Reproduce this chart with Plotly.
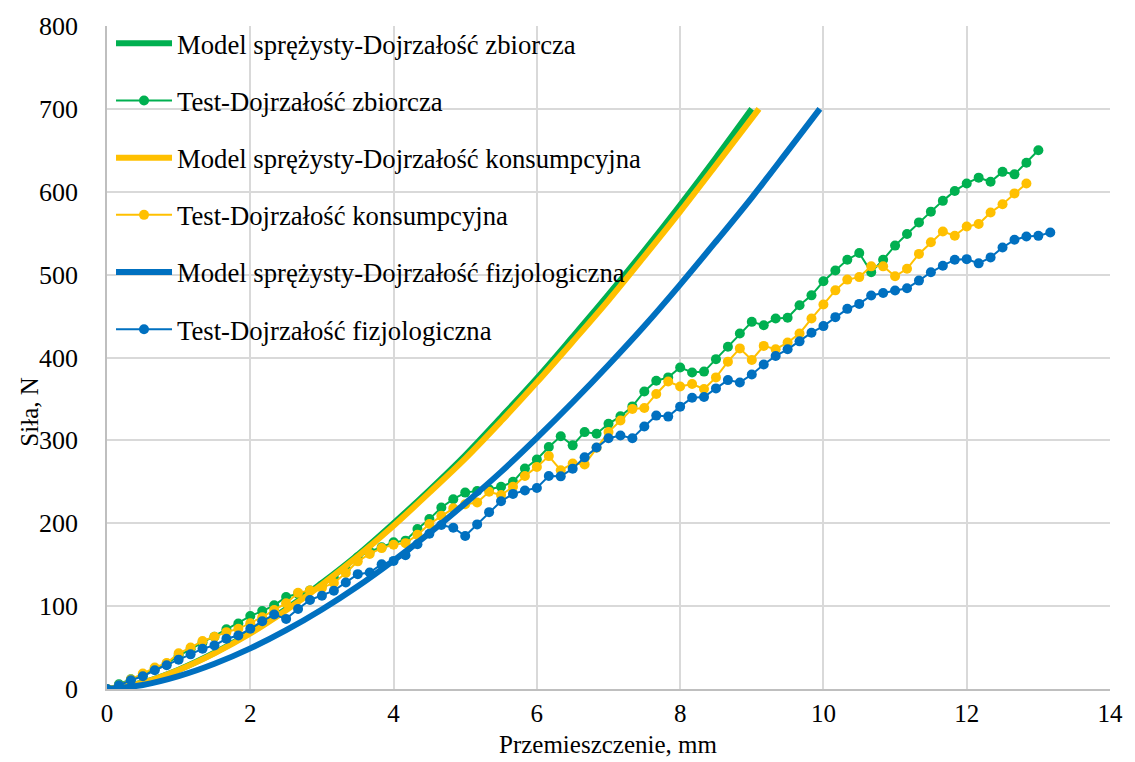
import plotly.graph_objects as go

# --- measured data (force F [N] vs displacement d [mm]) ---
# test samples are recorded every 1/6 mm
STEP = 1 / 6

test_zbiorcza = [
    0, 5.8, 11.8, 16.6, 24.6, 30.6, 40, 48, 56, 63, 72, 79, 88, 94, 101, 111,
    115, 119, 125, 134, 145, 159, 166, 171, 177, 179, 193, 205, 219, 229, 237,
    239, 241, 244, 250, 266, 277, 292, 305, 294, 310, 308, 320, 329, 341, 359,
    372, 376, 388, 382, 383, 398, 413, 429, 443, 439, 447, 448, 463, 475, 492,
    505, 518, 526, 503, 518, 535, 549, 563, 576, 589, 601, 610, 617, 612, 624,
    621, 635, 650,
]

test_konsumpcyjna = [
    0, 4.6, 11.5, 18.6, 25.8, 31.4, 43, 50, 58, 63, 68.6, 72.6, 79.4, 86.6,
    95.4, 103.4, 116, 119, 122, 128, 140, 154, 163, 170, 174, 176, 186, 199,
    209, 218, 223, 225, 238, 234, 244, 257, 268, 281, 264, 272, 271, 291, 310,
    324, 338, 339, 356, 371, 365, 368, 362, 376, 395, 411, 397, 414, 410, 418,
    429, 447, 464, 481, 494, 497, 510, 510, 498, 507, 525, 539, 552, 547, 558,
    561, 575, 585, 598, 610,
]

test_fizjologiczna = [
    0, 4.6, 10.6, 15.4, 22.6, 28.6, 35.4, 41.8, 48.6, 52.6, 60.6, 64.6, 72.6,
    81.8, 89.8, 84.6, 96.6, 107.4, 112.6, 118.6, 128.6, 138.6, 140.6, 150.6,
    154.6, 161.4, 174.7, 187.4, 197.8, 194.6, 184.6, 198.6, 213.4, 226.6, 235.4,
    239.5, 242.6, 257, 256.6, 265.9, 279.5, 291.5, 302.6, 305.9, 302.6, 316.7,
    329.9, 328.7, 340.7, 351.5, 352.3, 362.7, 372.7, 369.9, 379.5, 391.5, 401.9,
    409.9, 419.5, 429.9, 437.9, 448.7, 458.7, 464.7, 474.8, 477.9, 480.8, 483.6,
    492.8, 502.8, 510.8, 518, 518.7, 513.6, 520.8, 532.8, 542, 546, 546.8, 550.8,
]

# --- elastic model curves ---
model_zb_d = [0, 0.5, 1, 1.5, 2, 2.5, 3, 3.5, 4, 4.5, 5, 5.5, 6, 6.5, 7, 7.5, 8, 8.5, 9.0]
model_zb_f = [0, 7.9, 23.3, 43.7, 68.2, 96.5, 128, 162, 200, 240, 282, 328, 375, 425, 476, 529, 584, 641, 700]

model_ko_d = [0, 0.5, 1, 1.5, 2, 2.5, 3, 3.5, 4, 4.5, 5, 5.5, 6, 6.5, 7, 7.5, 8, 8.5, 9.1]
model_ko_f = [0, 7.8, 23, 43, 67, 95, 126, 160, 197, 237, 278, 323, 370, 419, 469, 522, 576, 632, 700]

model_fi_d = [0, 0.5, 1, 1.5, 2, 2.5, 3, 3.5, 4, 4.5, 5, 5.5, 6, 6.5, 7, 7.5, 8, 8.5, 9, 9.5, 9.95]
model_fi_f = [0, 4.9, 15.5, 30.4, 49, 71, 96, 124, 155, 188, 224, 262, 303, 346, 391, 438, 488, 540, 593, 649, 700]

x_ticks = [0, 2, 4, 6, 8, 10, 12, 14]
y_ticks = [0, 100, 200, 300, 400, 500, 600, 700, 800]

GREEN = "#00B050"
YELLOW = "#FFC000"
BLUE = "#0070C0"
FONT = "Liberation Serif, Times New Roman, serif"


def grid(values):
    return [round(i * STEP, 4) for i in range(len(values))]


fig = go.Figure()

series = [
    ("Model sprężysty-Dojrzałość zbiorcza", model_zb_d, model_zb_f, GREEN, "model"),
    ("Test-Dojrzałość zbiorcza", grid(test_zbiorcza), test_zbiorcza, GREEN, "test"),
    ("Model sprężysty-Dojrzałość konsumpcyjna", model_ko_d, model_ko_f, YELLOW, "model"),
    ("Test-Dojrzałość konsumpcyjna", grid(test_konsumpcyjna), test_konsumpcyjna, YELLOW, "test"),
    ("Model sprężysty-Dojrzałość fizjologiczna", model_fi_d, model_fi_f, BLUE, "model"),
    ("Test-Dojrzałość fizjologiczna", grid(test_fizjologiczna), test_fizjologiczna, BLUE, "test"),
]

for i, (name, xs, ys, color, kind) in enumerate(series):
    if kind == "model":
        fig.add_trace(go.Scatter(
            x=xs, y=ys, name=name, mode="lines", legendgroup=f"g{i}",
            line=dict(color=color, width=6, shape="spline", smoothing=1.0),
        ))
    else:
        fig.add_trace(go.Scatter(
            x=xs, y=ys, name=name, mode="lines+markers", legendgroup=f"g{i}",
            line=dict(color=color, width=2),
            marker=dict(color=color, size=10),
        ))

fig.update_layout(
    width=1135, height=762,
    margin=dict(l=107, r=24, t=22, b=73),
    paper_bgcolor="white", plot_bgcolor="white",
    font=dict(family=FONT, size=25, color="black"),
    showlegend=True,
    legend=dict(
        x=0.004, y=1.01, xanchor="left", yanchor="top",
        bgcolor="rgba(0,0,0,0)", borderwidth=0,
        font=dict(family=FONT, size=26.7, color="black"),
        itemwidth=56, tracegroupgap=19.5,
    ),
    xaxis=dict(
        range=[0, 14], tickvals=x_ticks, ticktext=[str(v) for v in x_ticks],
        showgrid=True, gridcolor="#D9D9D9", gridwidth=1.5,
        showline=True, linecolor="#BFBFBF", linewidth=1.5,
        zeroline=False, ticks="", ticklabelstandoff=1,
        tickfont=dict(family=FONT, size=25),
    ),
    yaxis=dict(
        range=[0, 800], tickvals=y_ticks, ticktext=[str(v) for v in y_ticks],
        showgrid=True, gridcolor="#D9D9D9", gridwidth=1.5,
        showline=True, linecolor="#BFBFBF", linewidth=1.5,
        zeroline=False, ticks="", ticklabelstandoff=22,
        tickfont=dict(family=FONT, size=26),
    ),
    annotations=[
        dict(text="Przemieszczenie, mm", xref="paper", yref="paper",
             x=0.5, y=-0.1064, xanchor="center", yanchor="bottom",
             showarrow=False, font=dict(family=FONT, size=25)),
        dict(text="Siła, N", xref="paper", yref="paper",
             x=-0.077, y=0.418, xanchor="center", yanchor="middle",
             textangle=-90, showarrow=False, font=dict(family=FONT, size=25)),
    ],
)

fig.write_html("out.html")
